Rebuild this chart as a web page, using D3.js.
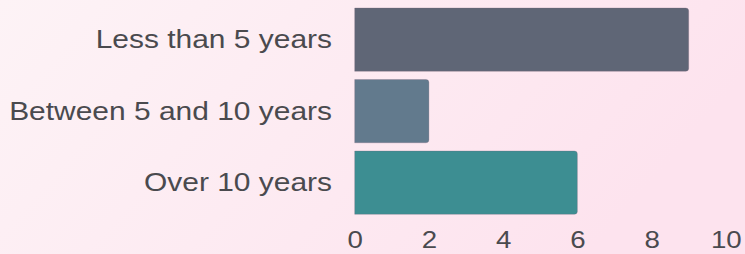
<!DOCTYPE html>
<html>
<head>
<meta charset="utf-8">
<script src="https://cdn.jsdelivr.net/npm/d3@7"></script>
<style>
  html, body { margin: 0; padding: 0; }
  body { width: 745px; height: 254px; overflow: hidden; }
</style>
</head>
<body>
<div id="chart"></div>
<script>
var categories = ["Less than 5 years", "Between 5 and 10 years", "Over 10 years"];
var values = [9, 2, 6];
var colors = ["#5f6676", "#627a8d", "#3d8e92"];
var ticks = [0, 2, 4, 6, 8, 10];

var width = 745, height = 254;
// the reference text looks a little stretched sideways
var stretch = "scale(1.13,1)";

var svg = d3.select("#chart")
  .append("svg")
    .attr("width", width)
    .attr("height", height);

var defs = svg.append("defs");
var grad = defs.append("linearGradient")
    .attr("id", "bg")
    .attr("x1", "0%").attr("y1", "0%")
    .attr("x2", "100%").attr("y2", "30%");
grad.append("stop").attr("offset", "0%").attr("stop-color", "#fdf3f6");
grad.append("stop").attr("offset", "100%").attr("stop-color", "#fde3ee");

svg.append("rect")
    .attr("width", width)
    .attr("height", height)
    .attr("fill", "url(#bg)");

var x = d3.scaleLinear()
    .domain([0, 10])
    .range([354.7, 725.8]);

var y = d3.scaleBand()
    .domain(categories)
    .range([8, 214.3])
    .paddingInner(0.115)
    .paddingOuter(0);

var r = 3;

// bars: square on the left, rounded on the right
svg.selectAll(".bar")
  .data(values)
  .enter().append("path")
    .attr("class", "bar")
    .attr("d", function(d, i) {
      var x0 = x(0), x1 = x(d), y0 = y(categories[i]), h = y.bandwidth();
      return "M" + x0 + "," + y0 +
        "H" + (x1 - r) +
        "Q" + x1 + "," + y0 + " " + x1 + "," + (y0 + r) +
        "V" + (y0 + h - r) +
        "Q" + x1 + "," + (y0 + h) + " " + (x1 - r) + "," + (y0 + h) +
        "H" + x0 + "Z";
    })
    .attr("fill", function(d, i) { return colors[i]; })
    .attr("stroke", "rgba(120,100,120,0.35)")
    .attr("stroke-width", 0.8);

var xAxis = svg.append("g")
    .attr("transform", "translate(0," + 222 + ")")
    .call(d3.axisBottom(x).tickValues(ticks).tickSize(0).tickPadding(0));
xAxis.select(".domain").remove();
xAxis.selectAll("text")
    .attr("dy", 0)
    .attr("y", 26.5)
    .attr("transform", stretch)
    .attr("fill", "#4a4a4e")
    .style("font-family", "'Liberation Sans', Arial, sans-serif")
    .style("font-size", "24.5px");

var yAxis = svg.append("g")
    .attr("transform", "translate(" + 332 + ",0)")
    .call(d3.axisLeft(y).tickSize(0).tickPadding(0));
yAxis.select(".domain").remove();
yAxis.selectAll("text")
    .attr("transform", stretch)
    .attr("fill", "#4a4a4e")
    .style("font-family", "'Liberation Sans', Arial, sans-serif")
    .style("font-size", "26.5px");
</script>
</body>
</html>
